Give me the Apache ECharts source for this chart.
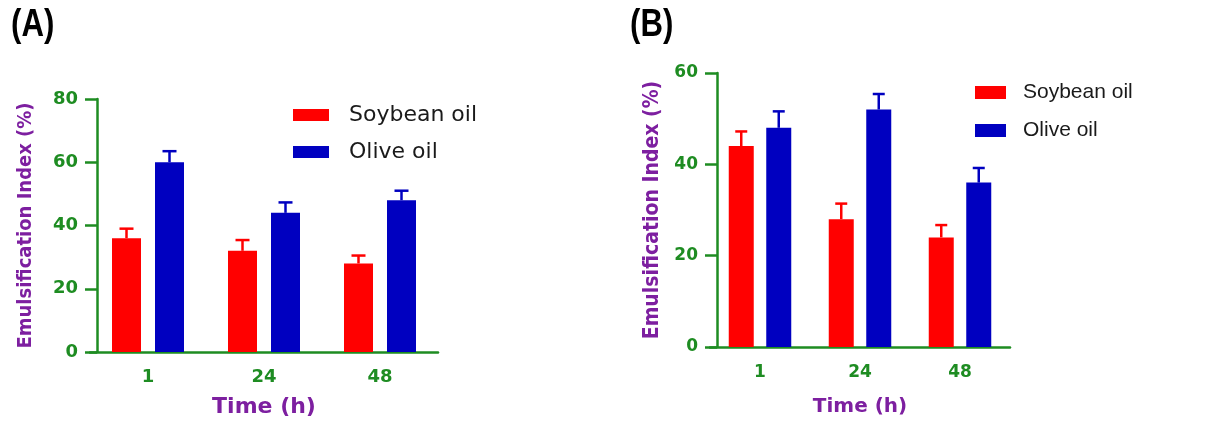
<!DOCTYPE html>
<html>
<head>
<meta charset="utf-8">
<script src="https://cdn.jsdelivr.net/npm/echarts@6/dist/echarts.min.js"></script>
<style>
  html, body { margin: 0; padding: 0; background: #ffffff; }
  #chart { width: 1217px; height: 423px; }
</style>
</head>
<body>
<div id="chart"></div>
<script>
// Sampling times (h)
const categories = ['1', '24', '48'];

// Panel A: emulsification index (%) and upper error (SD)
const soybeanA = [36, 32, 28];
const soybeanAErr = [3, 3.4, 2.5];
const oliveA = [60, 44, 48];
const oliveAErr = [3.5, 3.3, 3];

// Panel B: emulsification index (%) and upper error (SD)
const soybeanB = [44, 28, 24];
const soybeanBErr = [3.2, 3.4, 2.7];
const oliveB = [48, 52, 36];
const oliveBErr = [3.6, 3.4, 3.2];

const yTicksA = { min: 0, max: 80, interval: 20 };
const yTicksB = { min: 0, max: 60, interval: 20 };

const RED = '#ff0000';
const BLUE = '#0000c0';
const GREEN = '#1e8c22';
const PURPLE = '#7d1fa0';

const chart = echarts.init(document.getElementById('chart'));

// Upward-only error bar with a cap, shifted to sit over its bar
function errorSeries(name, values, errs, color, gridIdx, shift, capW) {
  return {
    type: 'custom',
    name: name,
    xAxisIndex: gridIdx,
    yAxisIndex: gridIdx,
    z: 5,
    silent: true,
    data: values.map((v, i) => [i, v, errs[i]]),
    renderItem: function (params, api) {
      const base = api.coord([api.value(0), api.value(1)]);
      const top = api.coord([api.value(0), api.value(1) + api.value(2)]);
      const x = base[0] + shift;
      const style = { stroke: color, lineWidth: 2.5 };
      return {
        type: 'group',
        children: [
          { type: 'line', shape: { x1: x, y1: base[1], x2: x, y2: top[1] }, style: style },
          { type: 'line', shape: { x1: x - capW / 2, y1: top[1], x2: x + capW / 2, y2: top[1] }, style: style }
        ]
      };
    }
  };
}

function xAxisFor(gridIdx, fontSize, margin, nameSize, nameGap) {
  return {
    type: 'category',
    gridIndex: gridIdx,
    data: categories,
    name: 'Time (h)',
    nameLocation: 'middle',
    nameGap: nameGap,
    nameTextStyle: { color: PURPLE, fontFamily: 'DejaVu Sans', fontWeight: 'bold', fontSize: nameSize, lineHeight: nameSize },
    axisLine: { lineStyle: { color: GREEN, width: 2.5 } },
    axisTick: { alignWithLabel: true, length: 10, lineStyle: { color: GREEN, width: 2.5 } },
    axisLabel: { color: GREEN, fontFamily: 'DejaVu Sans', fontWeight: 'bold', fontSize: fontSize, lineHeight: fontSize, margin: margin },
    splitLine: { show: false }
  };
}

function yAxisFor(gridIdx, ticks, fontSize, nameSize, nameGap) {
  return {
    type: 'value',
    gridIndex: gridIdx,
    min: ticks.min,
    max: ticks.max,
    interval: ticks.interval,
    offset: -7,
    name: 'Emulsification Index (%)',
    nameLocation: 'middle',
    nameGap: nameGap,
    nameTextStyle: { color: PURPLE, fontFamily: '"DejaVu Sans Condensed", "Liberation Sans"', fontWeight: 'bold', fontSize: nameSize, lineHeight: nameSize },
    axisLine: { show: true, lineStyle: { color: GREEN, width: 2.5 } },
    axisTick: { show: true, length: 12, lineStyle: { color: GREEN, width: 2.5 } },
    axisLabel: { color: GREEN, fontFamily: 'DejaVu Sans', fontWeight: 'bold', fontSize: fontSize, margin: 19 },
    splitLine: { show: false }
  };
}

function legendFor(left, top, iconW, iconH, gap, padLeft, font, size) {
  return {
    orient: 'vertical',
    left: left,
    top: top,
    padding: 0,
    itemWidth: iconW,
    itemHeight: iconH,
    itemGap: gap,
    icon: 'rect',
    selectedMode: false,
    data: ['Soybean oil', 'Olive oil'],
    textStyle: { color: '#1a1a1a', fontFamily: font, fontSize: size, lineHeight: 20, padding: [0, 0, 0, padLeft] }
  };
}

// Panel letters, drawn slightly condensed
function panelLetter(text, x) {
  return {
    type: 'text',
    x: x,
    y: 7,
    scaleX: 0.82,
    style: { text: text, fill: '#000', font: 'bold 38px "Liberation Sans"', textVerticalAlign: 'top' }
  };
}

// bar width + gap for each panel; error bars are shifted by half of their sum
const barA = { w: 29, gap: 14 };
const barB = { w: 25, gap: 12.5 };
const shiftA = (barA.w + barA.gap) / 2;
const shiftB = (barB.w + barB.gap) / 2;

const option = {
  backgroundColor: '#ffffff',
  animation: false,
  graphic: [panelLetter('(A)', 11), panelLetter('(B)', 630)],
  legend: [
    legendFor(293, 104, 36, 12, 15, 15, 'DejaVu Sans', 22),
    legendFor(975, 82, 31, 13, 17, 12, 'Liberation Sans', 21)
  ],
  grid: [
    { left: 90, right: 1217 - 438, top: 99, bottom: 423 - 353, containLabel: false },
    { left: 710, right: 1217 - 1010, top: 73, bottom: 423 - 347, containLabel: false }
  ],
  xAxis: [
    xAxisFor(0, 18, 16, 22, 44),
    xAxisFor(1, 17, 17, 20, 50)
  ],
  yAxis: [
    yAxisFor(0, yTicksA, 18, 20, 61),
    yAxisFor(1, yTicksB, 17, 21, 54)
  ],
  series: [
    { type: 'bar', name: 'Soybean oil', xAxisIndex: 0, yAxisIndex: 0, data: soybeanA,
      barWidth: barA.w, barGap: (barA.gap / barA.w * 100) + '%', itemStyle: { color: RED } },
    { type: 'bar', name: 'Olive oil', xAxisIndex: 0, yAxisIndex: 0, data: oliveA,
      barWidth: barA.w, barGap: (barA.gap / barA.w * 100) + '%', itemStyle: { color: BLUE } },
    { type: 'bar', name: 'Soybean oil', xAxisIndex: 1, yAxisIndex: 1, data: soybeanB,
      barWidth: barB.w, barGap: (barB.gap / barB.w * 100) + '%', itemStyle: { color: RED } },
    { type: 'bar', name: 'Olive oil', xAxisIndex: 1, yAxisIndex: 1, data: oliveB,
      barWidth: barB.w, barGap: (barB.gap / barB.w * 100) + '%', itemStyle: { color: BLUE } },
    errorSeries('Soybean oil SD', soybeanA, soybeanAErr, RED, 0, -shiftA, 14),
    errorSeries('Olive oil SD', oliveA, oliveAErr, BLUE, 0, shiftA, 14),
    errorSeries('Soybean oil SD', soybeanB, soybeanBErr, RED, 1, -shiftB, 12),
    errorSeries('Olive oil SD', oliveB, oliveBErr, BLUE, 1, shiftB, 12)
  ]
};

chart.setOption(option);
</script>
</body>
</html>
